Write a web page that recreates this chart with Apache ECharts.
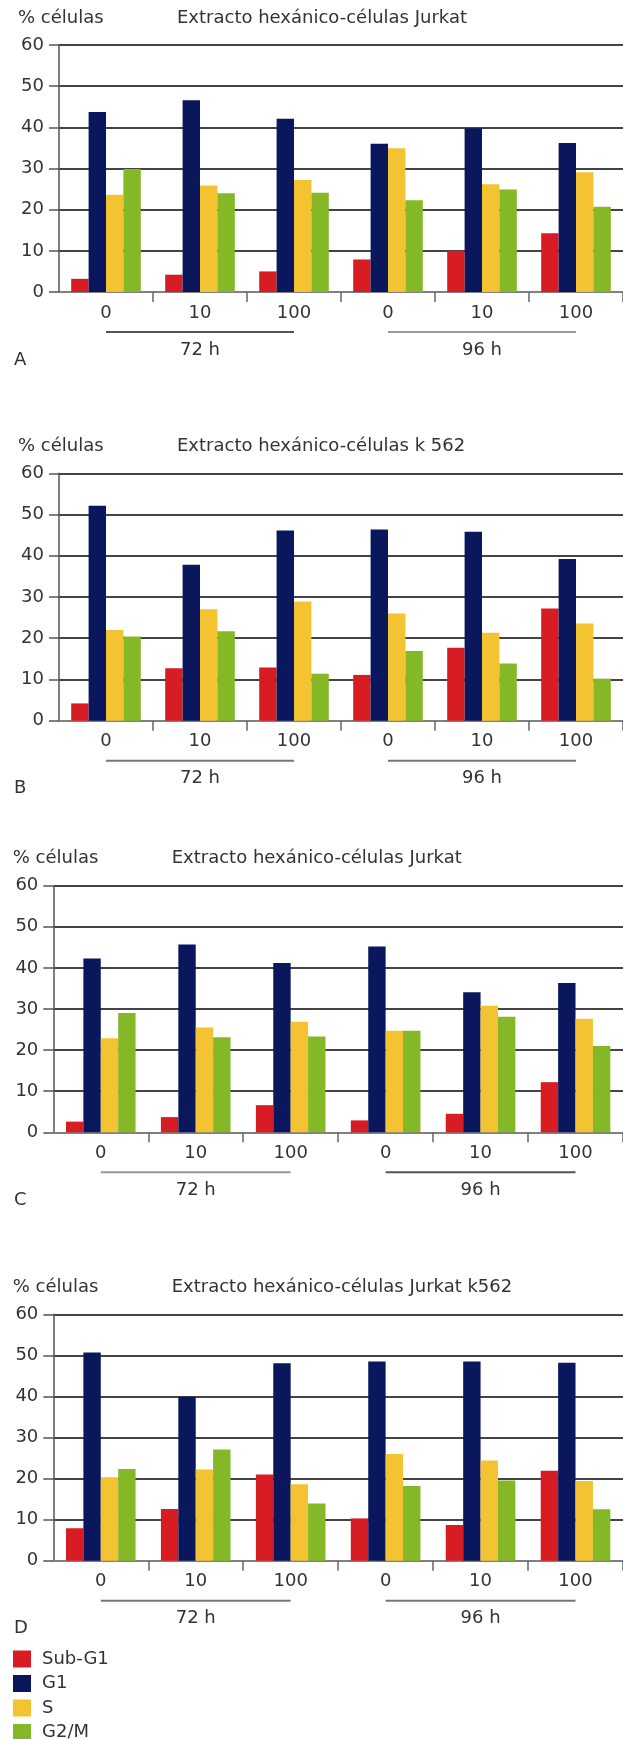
<!DOCTYPE html>
<html><head><meta charset="utf-8">
<script src="https://cdn.jsdelivr.net/npm/echarts@6/dist/echarts.min.js"></script>
<style>html,body{margin:0;padding:0;background:#fff}#c{width:623px;height:1739px}</style>
</head><body><div id="c"></div>
<script>
// ---------- DATA ----------
const categories = ['0', '10', '100', '0', '10', '100'];
const seriesNames = ['Sub-G1', 'G1', 'S', 'G2/M'];
const yMin = 0, yMax = 60, yStep = 10;
const groupLabels = ['72 h', '96 h'];
const groupFrom = [0, 3];
const groupTo = [2, 5];
const panelTitles = [
  'Extracto hexánico-células Jurkat',
  'Extracto hexánico-células k 562',
  'Extracto hexánico-células Jurkat',
  'Extracto hexánico-células Jurkat k562'
];
const panelLetters = ['A', 'B', 'C', 'D'];
const yAxisName = '% células';

// Panel A
const A_subG1 = [3.2, 4.2, 5.0, 7.9, 10.0, 14.3];
const A_G1    = [43.7, 46.6, 42.1, 36.0, 39.8, 36.2];
const A_S     = [23.6, 25.9, 27.2, 34.9, 26.2, 29.1];
const A_G2M   = [29.9, 24.0, 24.1, 22.3, 24.9, 20.7];
// Panel B
const B_subG1 = [4.2, 12.7, 12.9, 11.1, 17.7, 27.2];
const B_G1    = [52.1, 37.8, 46.1, 46.4, 45.8, 39.2];
const B_S     = [22.0, 27.0, 28.9, 26.0, 21.3, 23.6];
const B_G2M   = [20.4, 21.7, 11.4, 16.9, 13.9, 10.2];
// Panel C
const C_subG1 = [2.6, 3.7, 6.6, 2.9, 4.5, 12.2];
const C_G1    = [42.3, 45.7, 41.2, 45.2, 34.1, 36.3];
const C_S     = [22.9, 25.5, 26.9, 24.7, 30.8, 27.6];
const C_G2M   = [29.0, 23.1, 23.3, 24.7, 28.1, 21.0];
// Panel D
const D_subG1 = [7.9, 12.6, 21.0, 10.3, 8.7, 21.9];
const D_G1    = [50.7, 39.9, 48.1, 48.5, 48.5, 48.2];
const D_S     = [20.3, 22.2, 18.6, 26.0, 24.4, 19.4];
const D_G2M   = [22.3, 27.1, 13.9, 18.2, 19.5, 12.5];

const panelData = [
  [A_subG1, A_G1, A_S, A_G2M],
  [B_subG1, B_G1, B_S, B_G2M],
  [C_subG1, C_G1, C_S, C_G2M],
  [D_subG1, D_G1, D_S, D_G2M]
];

// ---------- STYLE / LAYOUT ----------
const colors = ['#d81c24', '#0b175c', '#f4c331', '#85b827'];
const FONT = 'DejaVu Sans';
const FS = 18;
const TXT = '#333';
const layout = [
  {left: 59,   top: 45,     h: 247,   titleX: 177,   nameX: 18,   lineColors: ['#555', '#999']},
  {left: 59,   top: 473.3,  h: 247.4, titleX: 177,   nameX: 18,   lineColors: ['#777', '#777']},
  {left: 53.3, top: 885.7,  h: 246.6, titleX: 171.7, nameX: 12.7, lineColors: ['#999', '#555']},
  {left: 53.3, top: 1314.3, h: 246.4, titleX: 171.7, nameX: 12.7, lineColors: ['#777', '#777']}
];
const catW = 95.3;

const chart = echarts.init(document.getElementById('c'), null, {renderer: 'canvas'});

const grids = [], xAxes = [], yAxes = [], series = [];
layout.forEach((L, p) => {
  grids.push({left: L.left, top: L.top, height: L.h, width: catW * categories.length, containLabel: false});
  xAxes.push({
    type: 'category', gridIndex: p, data: categories,
    axisLine: {lineStyle: {color: '#808080', width: 2}},
    axisTick: {show: true, length: 10, interval: function (i) { return i !== 0; }, lineStyle: {color: '#666', width: 1.5}},
    axisLabel: {fontFamily: FONT, fontSize: FS, color: TXT, margin: 12, interval: 0},
    splitLine: {show: false}
  });
  yAxes.push({
    type: 'value', gridIndex: p, min: yMin, max: yMax, interval: yStep,
    axisLine: {show: true, lineStyle: {color: '#555', width: 1.5}},
    axisTick: {show: true, length: 10, lineStyle: {color: '#555', width: 1.5}},
    axisLabel: {fontFamily: FONT, fontSize: FS, color: TXT, margin: 15},
    splitLine: {show: true, lineStyle: {color: '#444', width: 2}}
  });
  panelData[p].forEach((vals, s) => {
    series.push({
      type: 'bar', name: seriesNames[s], xAxisIndex: p, yAxisIndex: p,
      data: vals, barWidth: 17.4, barGap: '0%',
      itemStyle: {color: colors[s]}, emphasis: {disabled: true}
    });
  });
});

chart.setOption({
  animation: false,
  backgroundColor: '#fff',
  textStyle: {fontFamily: FONT},
  grid: grids, xAxis: xAxes, yAxis: yAxes, series: series,
  legend: {
    orient: 'vertical', left: 13, top: 1650, height: 100, padding: 0,
    itemWidth: 18, itemHeight: 17, itemGap: 6.5,
    icon: 'rect', data: seriesNames, selectedMode: false,
    textStyle: {fontFamily: FONT, fontSize: FS, color: TXT, lineHeight: 17, padding: [0, 0, 0, 6]}
  }
});

// group lines, titles, letters
const font = FS + 'px "DejaVu Sans"';
const graphics = [];
layout.forEach((L, p) => {
  const zeroY = L.top + L.h;
  graphics.push({type: 'text', x: L.nameX, y: L.top - 27, style: {text: yAxisName, font: font, fill: TXT, textVerticalAlign: 'middle'}});
  graphics.push({type: 'text', x: L.titleX, y: L.top - 27, style: {text: panelTitles[p], font: font, fill: TXT, textVerticalAlign: 'middle'}});
  graphics.push({type: 'text', x: 14, y: zeroY + 68, style: {text: panelLetters[p], font: font, fill: TXT, textVerticalAlign: 'middle'}});
  groupLabels.forEach((g, k) => {
    const x1 = chart.convertToPixel({xAxisIndex: p}, groupFrom[k]);
    const x2 = chart.convertToPixel({xAxisIndex: p}, groupTo[k]);
    const xm = chart.convertToPixel({xAxisIndex: p}, (groupFrom[k] + groupTo[k]) / 2);
    graphics.push({type: 'line', shape: {x1: x1, y1: zeroY + 40, x2: x2, y2: zeroY + 40}, style: {stroke: L.lineColors[k], lineWidth: 2}});
    graphics.push({type: 'text', x: xm, y: zeroY + 58, style: {text: g, font: font, fill: TXT, textAlign: 'center', textVerticalAlign: 'middle'}});
  });
});
chart.setOption({graphic: graphics});
</script></body></html>
